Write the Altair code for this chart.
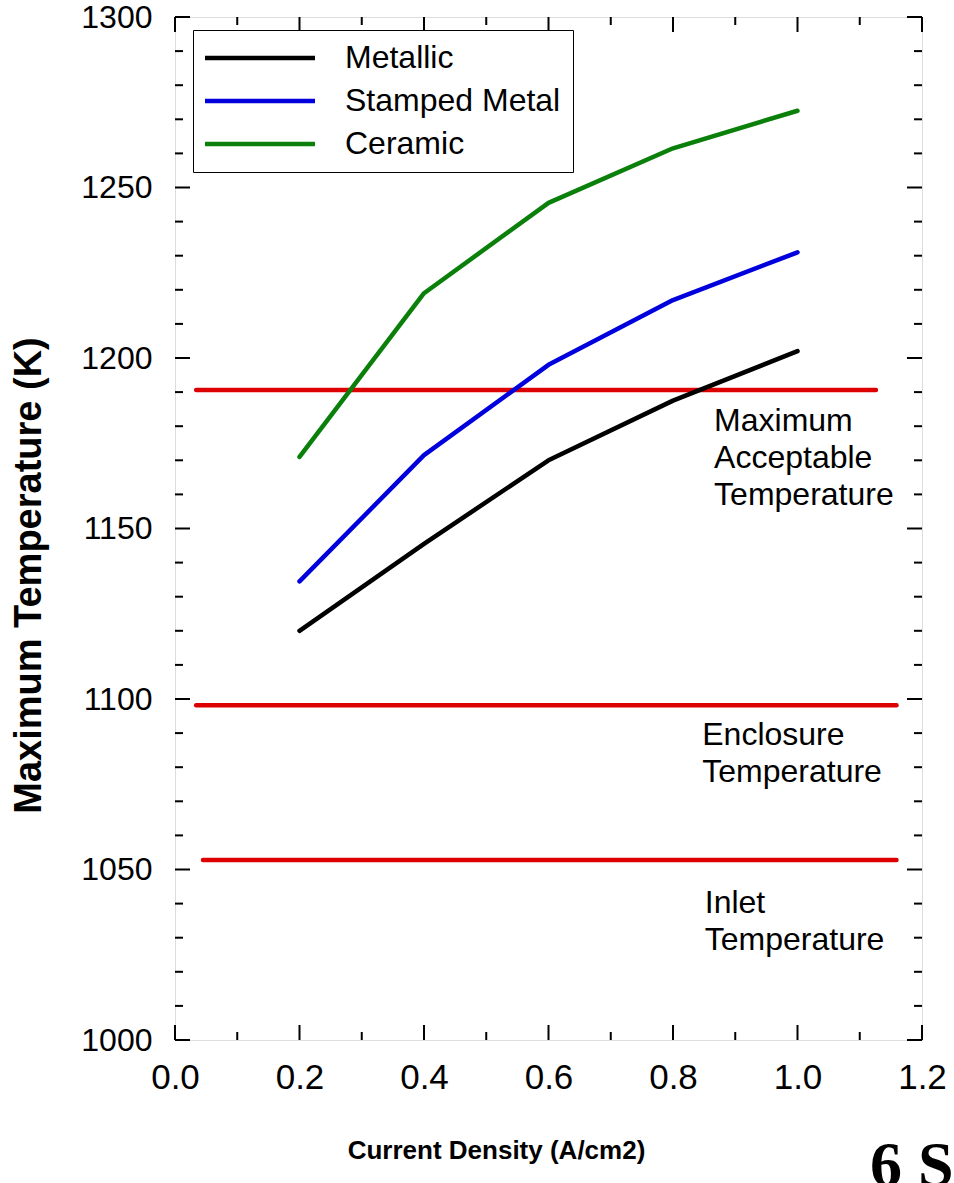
import altair as alt
import pandas as pd

# Current density (A/cm2) and peak temperature (K) for each interconnect type
density = [0.2, 0.4, 0.6, 0.8, 1.0]
metallic = [1120, 1145.5, 1170, 1187.5, 1202]
stamped_metal = [1134.5, 1171.5, 1198, 1217, 1231]
ceramic = [1171, 1219, 1245.5, 1261.5, 1272.5]
series_names = ["Metallic", "Stamped Metal", "Ceramic"]
series_colors = ["#000000", "#0000dc", "#0a800a"]

# Horizontal reference temperatures (K) and their horizontal extent
ref_temps = [1190.6, 1098.2, 1052.8]
ref_start = [0.034, 0.034, 0.045]
ref_end = [1.126, 1.159, 1.159]
ref_labels = ["Maximum\nAcceptable\nTemperature", "Enclosure\nTemperature", "Inlet\nTemperature"]
label_x = [0.866, 0.847, 0.851]
label_y = [1181.5, 1089.4, 1040.2]

# Axis ticks
x_major = [0.0, 0.2, 0.4, 0.6, 0.8, 1.0, 1.2]
x_minor = [0.1, 0.3, 0.5, 0.7, 0.9, 1.1]
y_major = [1000, 1050, 1100, 1150, 1200, 1250, 1300]
y_minor = [v for v in range(1000, 1301, 10) if v % 50 != 0]

W, H = 747, 1023
FONT = "Liberation Sans"

rows = []
for name, vals in zip(series_names, [metallic, stamped_metal, ceramic]):
    for d, t in zip(density, vals):
        rows.append({"density": d, "temp": t, "series": name})
df = pd.DataFrame(rows)

xs = alt.Scale(domain=[0, 1.2], nice=False, zero=False)
ys = alt.Scale(domain=[1000, 1300], nice=False, zero=False)

lines = alt.Chart(df).mark_line(strokeWidth=4.5, strokeCap="round", strokeJoin="round").encode(
    x=alt.X("density:Q", scale=xs,
            axis=alt.Axis(values=x_major, format=".1f", title="Current Density (A/cm2)",
                          labelFont=FONT, labelFontSize=35, labelColor="black",
                          labelPadding=20, ticks=False, tickSize=0, domain=False, grid=False,
                          titleFont=FONT, titleFontSize=26, titleFontWeight="bold",
                          titleColor="black", titleX=321, titleY=110, titleAlign="center",
                          titleBaseline="middle", labelFlush=False)),
    y=alt.Y("temp:Q", scale=ys,
            axis=alt.Axis(values=y_major, format="d", title="Maximum Temperature (K)",
                          labelFont=FONT, labelFontSize=32, labelColor="black",
                          labelPadding=23, ticks=False, tickSize=0, domain=False, grid=False,
                          titleFont=FONT, titleFontSize=38, titleFontWeight="bold",
                          titleColor="black", titleX=-146, titleY=558, titleAngle=270,
                          titleAlign="center", titleBaseline="middle", labelFlush=False)),
    color=alt.Color("series:N",
                    scale=alt.Scale(domain=series_names, range=series_colors),
                    legend=alt.Legend(title=None, orient="none", legendX=18, legendY=13,
                                      symbolType="M-5,0H5", symbolSize=484, symbolStrokeWidth=4.5,
                                      labelFont=FONT, labelFontSize=32, labelColor="black",
                                      labelLimit=400, labelOffset=69, symbolOffset=39,
                                      padding=12, rowPadding=11, strokeColor="black",
                                      fillColor="white", cornerRadius=0)),
    order="density:Q",
)

ref_df = pd.DataFrame({"temp": ref_temps, "x0": ref_start, "x1": ref_end})
ref_lines = alt.Chart(ref_df).mark_rule(color="#dd0000", strokeWidth=4.5, strokeCap="round").encode(
    x=alt.X("x0:Q", scale=xs), x2="x1:Q", y=alt.Y("temp:Q", scale=ys)
)

lab_df = pd.DataFrame({"label": ref_labels, "x": label_x, "y": label_y})
ref_text = alt.Chart(lab_df).mark_text(
    align="left", baseline="middle", font=FONT, fontSize=32, lineHeight=37, color="black", lineBreak="\n"
).encode(x=alt.X("x:Q", scale=xs), y=alt.Y("y:Q", scale=ys), text="label:N")

# Inward-pointing frame ticks on all four sides
def xticks(vals, size):
    d = pd.DataFrame({"v": vals})
    bottom = alt.Chart(d).mark_rule(color="black", strokeWidth=2).encode(
        x=alt.X("v:Q", scale=xs), y=alt.value(H), y2=alt.value(H - size))
    top = alt.Chart(d).mark_rule(color="black", strokeWidth=2).encode(
        x=alt.X("v:Q", scale=xs), y=alt.value(0), y2=alt.value(size))
    return [bottom, top]

def yticks(vals, size):
    d = pd.DataFrame({"v": vals})
    left = alt.Chart(d).mark_rule(color="black", strokeWidth=2).encode(
        y=alt.Y("v:Q", scale=ys), x=alt.value(0), x2=alt.value(size))
    right = alt.Chart(d).mark_rule(color="black", strokeWidth=2).encode(
        y=alt.Y("v:Q", scale=ys), x=alt.value(W), x2=alt.value(W - size))
    return [left, right]

tick_layers = xticks(x_major, 15) + xticks(x_minor, 8) + yticks(y_major, 15) + yticks(y_minor, 8)

corner = alt.Chart(pd.DataFrame({"t": ["6 S"]})).mark_text(
    align="left", baseline="alphabetic", font="Liberation Serif", fontSize=64,
    fontWeight="bold", color="black"
).encode(x=alt.value(695), y=alt.value(1169), text="t:N")

chart = alt.layer(ref_lines, lines, ref_text, *tick_layers, corner).properties(
    width=W, height=H,
    autosize=alt.AutoSizeParams(type="none"),
    padding={"left": 175, "top": 17, "right": 32, "bottom": 143},
).configure_view(stroke="black", strokeWidth=3.5).configure(background="white")

chart.save("out.html", embed_options={"renderer": "svg", "actions": False})
